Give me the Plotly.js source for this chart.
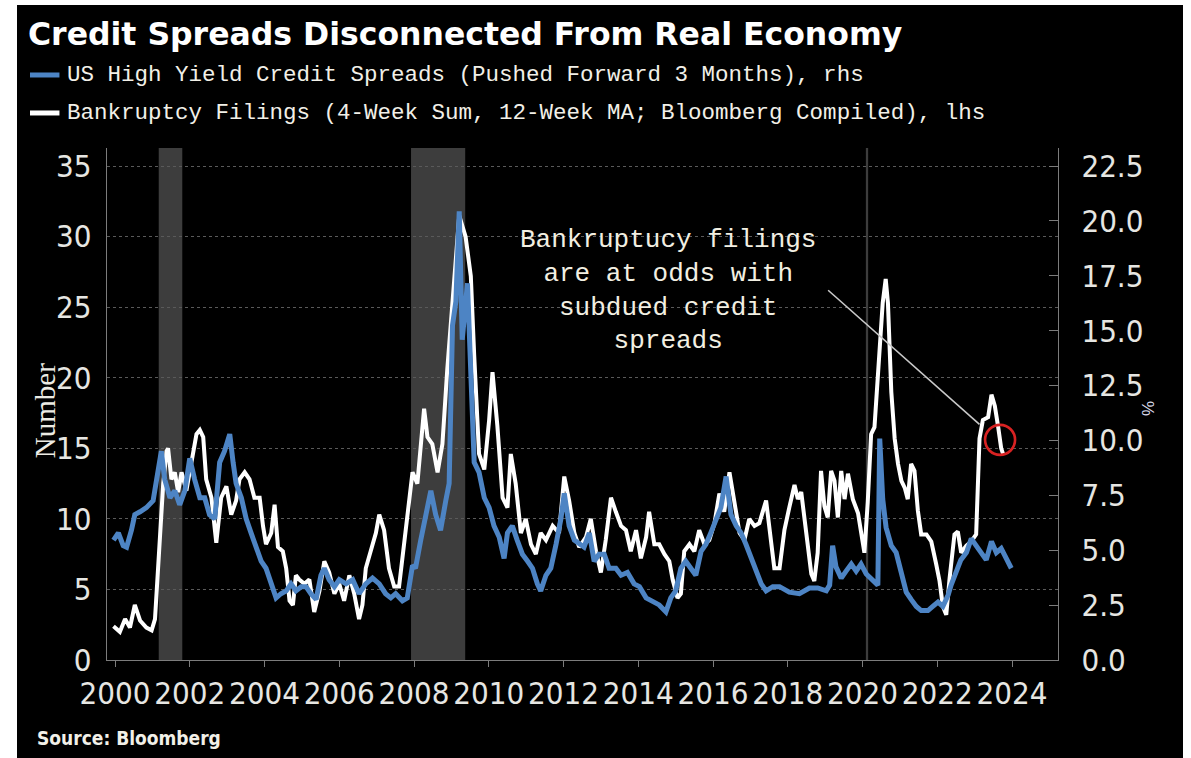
<!DOCTYPE html>
<html>
<head>
<meta charset="utf-8">
<script src="https://cdn.plot.ly/plotly-3.0.1.min.js"></script>
<style>
  html, body { margin: 0; padding: 0; background: #ffffff; width: 1191px; height: 758px; overflow: hidden; }
  #chart { position: absolute; left: 17px; top: 5px; width: 1166px; height: 753px; background: #000; }
</style>
</head>
<body>
<div id="chart"></div>
<script>
// Bankruptcy filings (4-week sum, 12-week MA), left axis, count
const filingDates = [
  1999.96, 2000.13, 2000.27, 2000.40, 2000.53, 2000.67, 2000.84, 2000.98, 2001.07, 2001.20,
  2001.29, 2001.38, 2001.42, 2001.51, 2001.60, 2001.69, 2001.78, 2001.91, 2002.04, 2002.18,
  2002.27, 2002.36, 2002.44, 2002.58, 2002.71, 2002.84, 2002.98, 2003.11, 2003.24, 2003.33,
  2003.47, 2003.60, 2003.73, 2003.87, 2003.96, 2004.04, 2004.18, 2004.27, 2004.36, 2004.49,
  2004.58, 2004.67, 2004.76, 2004.84, 2004.93, 2005.07, 2005.20, 2005.33, 2005.47, 2005.60,
  2005.73, 2005.87, 2006.00, 2006.13, 2006.27, 2006.40, 2006.53, 2006.62, 2006.71, 2006.84,
  2006.98, 2007.07, 2007.20, 2007.33, 2007.47, 2007.60, 2007.78, 2007.96, 2008.09, 2008.27,
  2008.36, 2008.49, 2008.63, 2008.76, 2008.89, 2008.98, 2009.12, 2009.21, 2009.38, 2009.52,
  2009.61, 2009.74, 2009.88, 2010.01, 2010.10, 2010.23, 2010.37, 2010.50, 2010.59, 2010.72,
  2010.86, 2010.99, 2011.13, 2011.26, 2011.39, 2011.53, 2011.71, 2011.88, 2012.02, 2012.15,
  2012.29, 2012.42, 2012.60, 2012.73, 2012.87, 2013.00, 2013.13, 2013.27, 2013.40, 2013.54,
  2013.67, 2013.80, 2013.94, 2014.07, 2014.21, 2014.29, 2014.43, 2014.56, 2014.70, 2014.83,
  2014.92, 2015.05, 2015.14, 2015.23, 2015.37, 2015.50, 2015.63, 2015.77, 2015.90, 2016.04,
  2016.17, 2016.30, 2016.44, 2016.57, 2016.71, 2016.84, 2016.97, 2017.11, 2017.24, 2017.42,
  2017.55, 2017.64, 2017.78, 2017.91, 2018.04, 2018.18, 2018.27, 2018.36, 2018.49, 2018.63,
  2018.71, 2018.80, 2018.89, 2018.98, 2019.07, 2019.16, 2019.25, 2019.34, 2019.43, 2019.52,
  2019.61, 2019.74, 2019.88, 2019.96, 2020.05, 2020.14, 2020.23, 2020.32, 2020.46, 2020.54,
  2020.62, 2020.68, 2020.77, 2020.86, 2020.95, 2021.04, 2021.13, 2021.21, 2021.30, 2021.39,
  2021.48, 2021.57, 2021.71, 2021.84, 2021.97, 2022.06, 2022.15, 2022.24, 2022.33, 2022.46,
  2022.55, 2022.64, 2022.78, 2022.91, 2023.04, 2023.13, 2023.22, 2023.36, 2023.45, 2023.54,
  2023.63, 2023.71, 2023.76
];
const filingValues = [
  2.4, 2.0, 2.9, 2.3, 3.9, 2.8, 2.3, 2.1, 2.9, 9.0,
  12.5, 14.8, 15.0, 12.8, 13.3, 11.9, 13.3, 12.0, 13.9, 16.0,
  16.3, 15.8, 12.8, 11.5, 8.3, 11.5, 12.3, 10.3, 11.3, 12.8,
  13.3, 12.8, 11.5, 11.5, 9.5, 8.2, 9.0, 11.0, 8.0, 7.7,
  6.5, 4.2, 3.9, 6.0, 5.7, 5.4, 5.7, 3.4, 4.9, 7.0,
  6.2, 4.7, 5.4, 4.2, 6.0, 4.7, 2.9, 3.9, 6.5, 7.7,
  9.0, 10.3, 9.2, 6.5, 5.2, 5.2, 9.0, 13.3, 12.5, 17.8,
  15.8, 15.3, 13.3, 15.3, 20.6, 23.7, 28.5, 31.5, 30.0, 27.2,
  21.6, 14.6, 13.5, 17.0, 20.4, 16.6, 11.5, 10.8, 14.6, 12.5,
  9.0, 10.0, 8.2, 7.5, 9.0, 8.5, 9.5, 9.0, 13.0, 11.3,
  9.0, 8.0, 8.7, 10.0, 7.7, 6.2, 8.5, 11.5, 10.5, 9.5,
  9.2, 7.7, 9.2, 7.2, 8.7, 10.5, 8.2, 8.2, 7.5, 7.0,
  5.7, 4.4, 4.7, 7.7, 8.2, 7.7, 9.2, 8.2, 8.5, 9.7,
  11.8, 10.5, 13.3, 11.0, 9.0, 8.5, 10.0, 9.5, 9.7, 11.3,
  8.5, 6.5, 6.5, 9.2, 10.8, 12.4, 11.4, 11.9, 9.1, 6.1,
  5.6, 7.6, 13.4, 10.9, 10.1, 13.4, 12.7, 10.1, 13.4, 11.4,
  13.2, 11.4, 10.4, 8.9, 7.6, 11.2, 16.0, 16.5, 21.5, 25.3,
  27.0, 25.3, 19.0, 15.7, 13.9, 12.7, 12.2, 11.4, 13.9, 13.4,
  10.6, 8.9, 8.9, 8.4, 6.8, 5.6, 3.8, 3.2, 5.8, 8.9,
  9.1, 7.6, 8.1, 8.4, 8.9, 15.7, 17.0, 17.2, 18.8, 18.0,
  16.5, 15.0, 14.6
];

// US high yield credit spreads, pushed forward 3 months, right axis, %
const spreadDates = [
  1999.96, 2000.09, 2000.22, 2000.31, 2000.44, 2000.53, 2000.67, 2000.84, 2001.02, 2001.16,
  2001.24, 2001.33, 2001.47, 2001.60, 2001.73, 2001.87, 2002.00, 2002.13, 2002.27, 2002.40,
  2002.53, 2002.67, 2002.80, 2002.93, 2003.07, 2003.16, 2003.24, 2003.38, 2003.51, 2003.64,
  2003.78, 2003.91, 2004.04, 2004.18, 2004.31, 2004.44, 2004.58, 2004.71, 2004.84, 2004.98,
  2005.11, 2005.24, 2005.38, 2005.51, 2005.60, 2005.73, 2005.87, 2006.00, 2006.18, 2006.36,
  2006.53, 2006.71, 2006.89, 2007.07, 2007.24, 2007.38, 2007.51, 2007.69, 2007.82, 2007.96,
  2008.04, 2008.18, 2008.31, 2008.45, 2008.58, 2008.71, 2008.85, 2008.94, 2009.03, 2009.12,
  2009.21, 2009.29, 2009.43, 2009.52, 2009.61, 2009.74, 2009.88, 2010.01, 2010.14, 2010.28,
  2010.41, 2010.50, 2010.63, 2010.76, 2010.90, 2011.04, 2011.17, 2011.30, 2011.39, 2011.53,
  2011.66, 2011.80, 2011.93, 2012.02, 2012.15, 2012.29, 2012.42, 2012.55, 2012.69, 2012.82,
  2012.95, 2013.09, 2013.22, 2013.40, 2013.54, 2013.71, 2013.89, 2014.03, 2014.21, 2014.38,
  2014.56, 2014.74, 2014.87, 2015.00, 2015.14, 2015.27, 2015.40, 2015.54, 2015.68, 2015.81,
  2015.94, 2016.08, 2016.21, 2016.35, 2016.48, 2016.62, 2016.75, 2016.88, 2017.02, 2017.15,
  2017.29, 2017.42, 2017.60, 2017.78, 2017.96, 2018.04, 2018.31, 2018.58, 2018.80, 2019.03,
  2019.12, 2019.20, 2019.29, 2019.43, 2019.56, 2019.70, 2019.83, 2019.96, 2020.10, 2020.28,
  2020.41, 2020.46, 2020.54, 2020.63, 2020.77, 2020.90, 2021.04, 2021.17, 2021.30, 2021.44,
  2021.57, 2021.75, 2021.88, 2022.02, 2022.15, 2022.29, 2022.37, 2022.50, 2022.63, 2022.78,
  2022.91, 2023.04, 2023.18, 2023.31, 2023.45, 2023.58, 2023.71, 2023.85, 2023.98
];
const spreadValues = [
  5.46, 5.79, 5.21, 5.14, 5.91, 6.62, 6.75, 6.94, 7.26, 8.68,
  9.51, 8.23, 7.39, 7.71, 7.07, 7.71, 9.19, 8.23, 7.39, 7.39,
  6.62, 6.43, 9.00, 9.51, 10.29, 9.00, 8.04, 7.39, 6.43, 5.79,
  5.14, 4.50, 4.18, 3.47, 2.83, 3.02, 3.15, 3.47, 3.15, 3.34,
  3.34, 3.02, 2.76, 3.86, 4.18, 3.66, 3.34, 3.66, 3.47, 3.66,
  3.02, 3.47, 3.73, 3.47, 3.02, 2.83, 3.02, 2.70, 2.83, 4.31,
  4.18, 5.46, 6.62, 7.71, 6.62, 5.91, 7.26, 8.04, 15.24, 16.33,
  20.44, 14.59, 17.16, 13.56, 9.00, 8.55, 7.39, 6.94, 6.11, 5.59,
  4.63, 5.79, 6.11, 5.46, 4.82, 4.50, 4.18, 3.47, 3.15, 3.86,
  4.18, 5.27, 6.43, 7.59, 6.11, 5.46, 5.27, 5.14, 5.79, 4.50,
  4.82, 4.82, 4.18, 4.18, 3.86, 3.99, 3.47, 3.34, 2.83, 2.70,
  2.51, 2.19, 2.83, 3.15, 4.18, 4.50, 4.18, 3.86, 4.95, 5.27,
  5.79, 6.43, 6.94, 8.36, 6.62, 6.11, 5.79, 5.27, 4.63, 4.18,
  3.47, 3.15, 3.34, 3.34, 3.15, 3.09, 3.02, 3.28, 3.28, 3.15,
  3.41, 5.21, 4.24, 3.73, 4.05, 4.37, 4.05, 4.37, 3.92, 3.60,
  3.41, 10.09, 7.33, 6.04, 5.21, 4.89, 4.05, 3.09, 2.76, 2.44,
  2.25, 2.25, 2.44, 2.64, 2.44, 2.96, 3.41, 4.05, 4.56, 4.89,
  5.53, 5.21, 4.89, 4.56, 5.40, 4.89, 5.08, 4.56, 4.18
];

// Recession periods shaded behind the lines (decimal years)
const recessionStarts = [2001.17, 2007.92, 2020.09];
const recessionEnds   = [2001.80, 2009.37, 2020.15];

const xTickVals = [2000, 2002, 2004, 2006, 2008, 2010, 2012, 2014, 2016, 2018, 2020, 2022, 2024];
const leftTickVals = [0, 5, 10, 15, 20, 25, 30, 35];
const rightTickVals = [0, 2.5, 5, 7.5, 10, 12.5, 15, 17.5, 20, 22.5];

const chartTitle = 'Credit Spreads Disconnected From Real Economy';
const spreadName = 'US High Yield Credit Spreads (Pushed Forward 3 Months), rhs';
const filingName = 'Bankruptcy Filings (4-Week Sum, 12-Week MA; Bloomberg Compiled), lhs';
const noteText = 'Bankruptucy filings<br>are at odds with<br>subdued credit<br>spreads';
const sourceText = 'Source: Bloomberg';

// The note points at the latest filings reading
const notePoint = { x: 2023.68, y: 15.6 };

const BLUE = '#4d84c4';
const WHITE = '#ffffff';
const AXIS = '#7c7c7c';
const TICKFONT = { family: '"DejaVu Sans Condensed", "Liberation Sans", sans-serif', size: 31, color: '#e6e6e2' };
const MONO = '"Liberation Mono", "DejaVu Sans Mono", monospace';

const leftMax = 36.28;
const rightMax = leftMax * 22.5 / 35;

const traces = [
  {
    x: filingDates, y: filingValues, yaxis: 'y', type: 'scatter', mode: 'lines',
    name: filingName, line: { color: WHITE, width: 4 }, showlegend: false, hoverinfo: 'skip'
  },
  {
    x: spreadDates, y: spreadValues, yaxis: 'y2', type: 'scatter', mode: 'lines',
    name: spreadName, line: { color: BLUE, width: 5 }, showlegend: false, hoverinfo: 'skip'
  }
];

const shapes = recessionStarts.map((s, i) => ({
  type: 'rect', xref: 'x', yref: 'paper', x0: s, x1: recessionEnds[i], y0: 0, y1: 1,
  fillcolor: '#3d3d3d', line: { width: 0 }, layer: 'below'
}));

// legend swatches
shapes.push(
  { type: 'line', xref: 'paper', yref: 'paper', x0: -0.081, x1: -0.050, y0: 1.1426, y1: 1.1426,
    line: { color: BLUE, width: 5 } },
  { type: 'line', xref: 'paper', yref: 'paper', x0: -0.081, x1: -0.050, y0: 1.0684, y1: 1.0684,
    line: { color: WHITE, width: 5 } }
);

// pointer line from the note and the ring around the latest reading
shapes.push(
  { type: 'line', xref: 'x', yref: 'y', x0: 2019.08, y0: 26.2, x1: 2023.13, y1: 16.7,
    line: { color: '#c9c9c9', width: 1.6 } },
  { type: 'circle', xref: 'x', yref: 'y', xsizemode: 'pixel', ysizemode: 'pixel',
    xanchor: notePoint.x, yanchor: notePoint.y, x0: -15, x1: 15, y0: -15, y1: 15,
    line: { color: '#d82222', width: 2.6 } }
);

const annotations = [
  { xref: 'paper', yref: 'paper', x: -0.0442, y: 1.1426, xanchor: 'left', yanchor: 'middle',
    text: spreadName, showarrow: false, font: { family: MONO, size: 22.5, color: '#f2f0e8' } },
  { xref: 'paper', yref: 'paper', x: -0.0442, y: 1.0684, xanchor: 'left', yanchor: 'middle',
    text: filingName, showarrow: false, font: { family: MONO, size: 22.5, color: '#f2f0e8' } },
  { xref: 'x', yref: 'y', x: 2014.8, y: 26.2, xanchor: 'center', yanchor: 'middle', align: 'center',
    text: noteText, showarrow: false, font: { family: MONO, size: 26, color: '#f2efe2' } },
  { xref: 'paper', yref: 'paper', x: -0.0652, y: 0.488, xanchor: 'center', yanchor: 'middle',
    text: 'Number', textangle: -90, showarrow: false,
    font: { family: '"Liberation Serif", "DejaVu Serif", serif', size: 29, color: '#ecebe4' } },
  { xref: 'paper', yref: 'paper', x: 1.0946, y: 0.492, xanchor: 'center', yanchor: 'middle',
    text: '%', textangle: -90, showarrow: false,
    font: { family: '"Liberation Sans", sans-serif', size: 17, color: '#d8d8e8' } },
  { xref: 'paper', yref: 'paper', x: -0.0757, y: -0.1523, xanchor: 'left', yanchor: 'middle',
    text: '<b>' + sourceText + '</b>', showarrow: false,
    font: { family: '"DejaVu Sans Condensed", "Liberation Sans", sans-serif', size: 19, color: '#f2f0e8' } }
];

const layout = {
  width: 1166, height: 753,
  paper_bgcolor: '#000000', plot_bgcolor: '#000000',
  margin: { l: 90, r: 125, t: 143, b: 98, pad: 0 },
  showlegend: false,
  title: {
    text: '<b>' + chartTitle + '</b>', xref: 'container', yref: 'container',
    x: 11 / 1166, xanchor: 'left', y: 1 - 29 / 753, yanchor: 'middle',
    font: { family: '"DejaVu Sans", "Liberation Sans", sans-serif', size: 31.5, color: '#ffffff' }
  },
  xaxis: {
    range: [1999.786, 2025.23], tickmode: 'array', tickvals: xTickVals, tickformat: 'd',
    showgrid: false, zeroline: false, showline: true, linecolor: AXIS, linewidth: 1.2,
    ticks: 'outside', ticklen: 6, tickcolor: AXIS, tickfont: TICKFONT
  },
  yaxis: {
    range: [0, leftMax], tickmode: 'array', tickvals: leftTickVals,
    showgrid: true, gridcolor: '#5a5a5a', griddash: 'dot', gridwidth: 1,
    zeroline: false, showline: true, linecolor: AXIS, linewidth: 1.2,
    ticks: '', ticklabelstandoff: 8, tickfont: TICKFONT
  },
  yaxis2: {
    range: [0, rightMax], overlaying: 'y', side: 'right', tickmode: 'array', tickvals: rightTickVals,
    tickformat: '.1f', showgrid: false, zeroline: false, showline: true, linecolor: AXIS, linewidth: 1.2,
    ticks: 'inside', ticklen: 9, tickcolor: AXIS, ticklabelstandoff: 16, tickfont: TICKFONT
  },
  shapes: shapes,
  annotations: annotations
};

Plotly.newPlot('chart', traces, layout, { staticPlot: true, displayModeBar: false });
</script>
</body>
</html>
